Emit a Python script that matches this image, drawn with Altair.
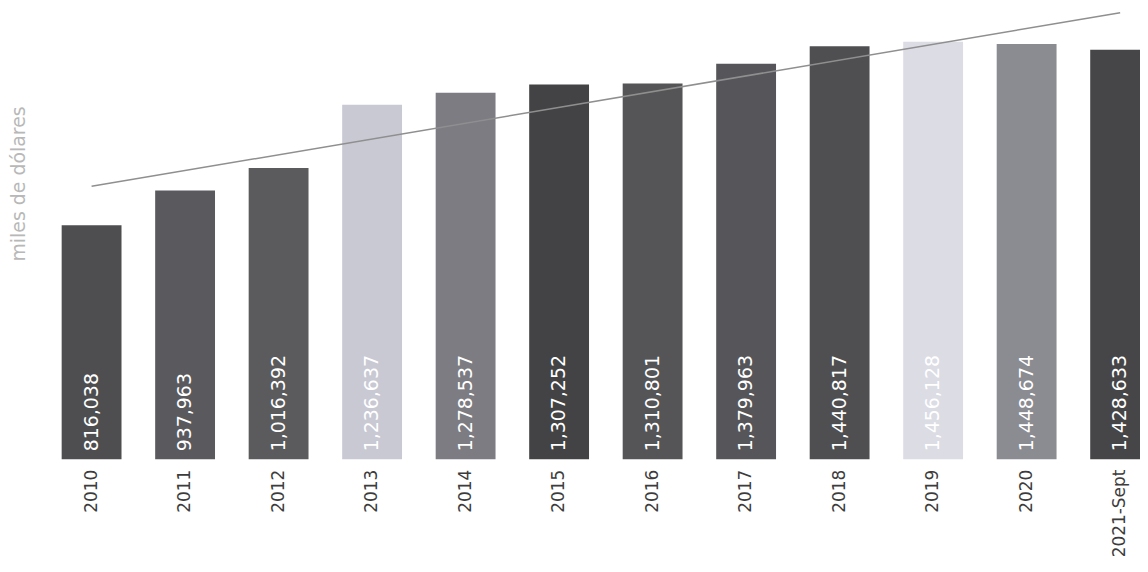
import altair as alt
import pandas as pd

years = ["2010", "2011", "2012", "2013", "2014", "2015", "2016", "2017",
         "2018", "2019", "2020", "2021-Sept"]
values = [816038, 937963, 1016392, 1236637, 1278537, 1307252, 1310801,
          1379963, 1440817, 1456128, 1448674, 1428633]

bar_palette = ["#4e4e50", "#5a5a5e", "#5b5b5d", "#c9c9d4", "#7c7c82", "#434345",
               "#555557", "#56565a", "#4f4f52", "#dcdce5", "#8b8b92", "#464648"]

df = pd.DataFrame({"year": years, "value": values, "idx": list(range(len(years)))})

band_range = [0, 1127]

base = alt.Chart(df)

y_enc = alt.Y(
    "value:Q",
    scale=alt.Scale(domain=[0, 1570000], nice=False),
    axis=alt.Axis(
        title="miles de dólares", labels=False, ticks=False, domain=False, grid=False,
        titleX=-26, titleY=175, titleAngle=270, titleAlign="center",
        titleBaseline="middle", titleFont="DejaVu Sans", titleFontSize=19,
        titleFontWeight="normal", titleColor="#b8b8b8",
    ),
)

x_band = alt.X(
    "year:N", sort=years,
    scale=alt.Scale(range=band_range, paddingInner=0.36, paddingOuter=0.18),
    axis=alt.Axis(
        title=None, labelAngle=270, labelAlign="right", labelBaseline="middle",
        labelPadding=10, labelFont="DejaVu Sans", labelFontSize=17,
        labelColor="#3c3c3c", ticks=False, domain=False, grid=False,
    ),
)

bars = base.mark_bar().encode(
    x=x_band,
    y=y_enc,
    color=alt.Color("year:N", sort=years,
                    scale=alt.Scale(domain=years, range=bar_palette), legend=None),
)

labels = base.mark_text(
    angle=270, align="left", baseline="middle", dx=8,
    color="white", font="DejaVu Sans", fontSize=19,
).encode(
    x=alt.X("year:N", sort=years),
    y=alt.datum(0),
    text=alt.Text("value:Q", format=","),
)

trend = base.transform_regression("idx", "value", method="linear").mark_line(
    color="#8f8f8f", strokeWidth=1.5
).encode(
    x=alt.X("idx:Q", scale=alt.Scale(domain=[-0.5, 11.5], range=band_range,
                                     nice=False, zero=False), axis=None),
    y=y_enc,
)

chart = (
    alt.layer(alt.layer(bars, labels), trend)
    .resolve_scale(x="independent")
    .properties(
        width=1100, height=452,
        padding={"left": 37, "top": 0, "right": 0, "bottom": 100},
        autosize=alt.AutoSizeParams(type="none"),
    )
    .configure_view(stroke=None)
)

chart.save("out.html", embed_options={"renderer": "svg", "actions": False})
